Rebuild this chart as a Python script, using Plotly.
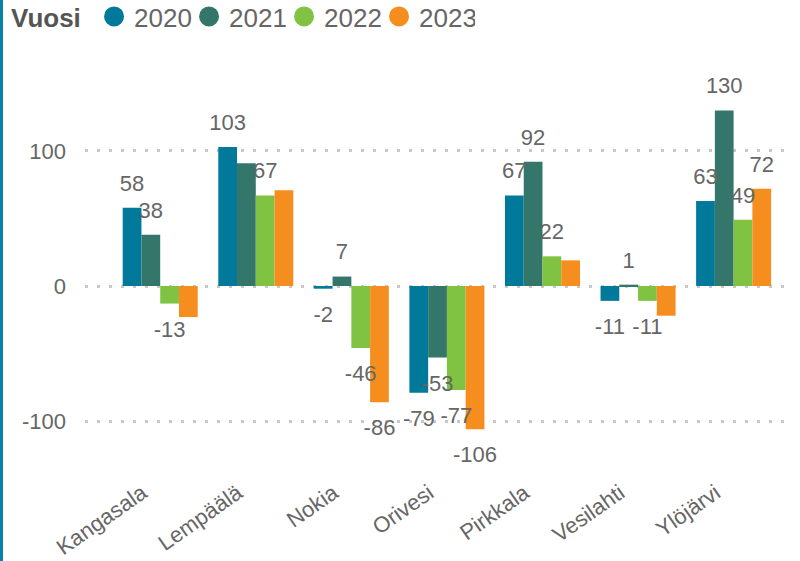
import plotly.graph_objects as go

categories = ["Kangasala", "Lempäälä", "Nokia", "Orivesi", "Pirkkala", "Vesilahti", "Ylöjärvi"]
years = ["2020", "2021", "2022", "2023"]
v2020 = [58, 103, -2, -79, 67, -11, 63]
v2021 = [38, 91, 7, -53, 92, 1, 130]
v2022 = [-13, 67, -46, -77, 22, -11, 49]
v2023 = [-23, 71, -86, -106, 19, -22, 72]
# which data labels are visible (some are hidden in the original due to overlap)
show2020 = [True, True, True, True, True, True, True]
show2021 = [True, False, True, True, True, True, True]
show2022 = [True, True, True, True, True, True, True]
show2023 = [False, False, True, True, False, False, True]
y_ticks = [-100, 0, 100]
y_tick_labels = ["-100", "0", "100"]

series = [v2020, v2021, v2022, v2023]
shows = [show2020, show2021, show2022, show2023]
colors = ["#01799B", "#34776A", "#80C242", "#F68E1F"]

FONT = "Liberation Sans, Arial, sans-serif"
GAP = 0.215
L, R, T, B = 85, 10, 50, 100
PW, PH = 800 - L - R, 561 - T - B

fig = go.Figure()
for yr, vals, col in zip(years, series, colors):
    fig.add_trace(go.Bar(
        x=categories, y=vals, name=yr, marker=dict(color=col, line=dict(width=0)),
        offsetgroup=yr, showlegend=False, hoverinfo="skip"))

for yr, vals, sh in zip(years, series, shows):
    fig.add_trace(go.Scatter(
        x=categories, y=vals, mode="markers+text",
        text=[str(v) if s else "" for v, s in zip(vals, sh)],
        textposition=["top center" if v >= 0 else "bottom center" for v in vals],
        textfont=dict(family=FONT, size=22, color="#666666"),
        marker=dict(size=[17 if v >= 0 else 25 for v in vals], opacity=0),
        offsetgroup=yr, showlegend=False, hoverinfo="skip", cliponaxis=False))

for yr, col in zip(years, colors):
    fig.add_trace(go.Scatter(
        x=[None], y=[None], mode="markers", name=yr, offsetgroup=yr,
        marker=dict(color=col, size=16, symbol="circle", line=dict(color=col, width=4))))

fig.add_shape(type="rect", xref="paper", yref="paper",
              x0=-L / PW, x1=-(L - 3) / PW, y0=-2, y1=3,
              fillcolor="#0882A6", line=dict(width=0), layer="above")

fig.update_layout(
    width=800, height=561,
    margin=dict(l=L, r=R, t=T, b=B, autoexpand=False),
    paper_bgcolor="white", plot_bgcolor="white",
    barmode="group", bargap=GAP, bargroupgap=0,
    scattermode="group", scattergap=GAP,
    font=dict(family=FONT, color="#666666"),
    legend=dict(
        orientation="h", x=-(L - 9) / PW, xref="paper", xanchor="left",
        y=1 + (T + 7) / PH, yref="paper", yanchor="top",
        title=dict(text="<b>Vuosi</b>&#8201;", font=dict(size=26, color="#555555")),
        font=dict(size=26, color="#666666"), entrywidth=50,
        traceorder="normal", itemclick=False, itemdoubleclick=False),
    xaxis=dict(
        type="category", range=[-0.787, 6.59], tickangle=-35,
        tickfont=dict(size=22, color="#666666"), showgrid=False,
        showline=False, zeroline=False, ticks="",
        ticklabelshift=-18, ticklabelstandoff=14),
    yaxis=dict(
        range=[-129.6, 174.8], tickvals=y_ticks, ticktext=y_tick_labels,
        tickfont=dict(size=22, color="#666666"),
        showgrid=True, gridcolor="#c8c8c8", gridwidth=2.5, griddash="3px,9px",
        zeroline=False, showline=False, ticks="", ticklabelstandoff=18),
    showlegend=True,
)

fig.write_html("out.html", config={"displayModeBar": False},
               post_script="document.body.style.margin='0px';document.body.style.padding='0px';")
